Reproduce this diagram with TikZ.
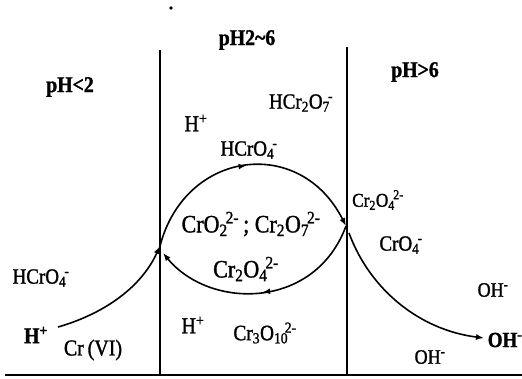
\documentclass[tikz,border=0pt]{standalone}
\usepackage{fontspec}
\setmainfont{Liberation Serif}[FakeStretch=0.88,FakeBold=1.3]
\usetikzlibrary{arrows.meta,decorations.markings}
\newcommand{\sbx}[1]{\textsubscript{#1}}
\newcommand{\spx}[1]{\textsuperscript{#1}}
\newcommand{\chg}[1]{\kern-0.08em\textsuperscript{#1}}
\newcommand{\fsz}[1]{\fontsize{#1}{#1}\selectfont}
\begin{document}
\begin{tikzpicture}[x=1pt,y=-1pt,line width=1.6pt,
  lbl/.style={inner sep=0pt,font=\fsz{21.6}},
  big/.style={inner sep=0pt,font=\fsz{25}},
  bl/.style={inner sep=0pt,font=\fsz{22.5}\bfseries},
  tip/.style={-{Latex[length=8pt,width=6pt]}},
  midtip/.style={postaction={decorate},decoration={markings,mark=at position #1 with {\arrow{Latex[length=7pt,width=6pt]}}}},
  midtip/.default=0.5]
\useasboundingbox (0,0) rectangle (522,378);
% frame lines
\coordinate (L1t) at (160,50);
\coordinate (L1b) at (160,375);
\coordinate (L2t) at (347,47);
\coordinate (L2b) at (347,375);
\coordinate (Bl) at (5,375);
\coordinate (Br) at (522,375);
\draw (L1t) -- (L1b);
\draw (L2t) -- (L2b);
\draw (Bl) -- (Br);
% junctions
\coordinate (S) at (58,327);
\coordinate (J1) at (160,246);
\coordinate (J1b) at (163,253);
\coordinate (J2) at (346,226);
\coordinate (J2b) at (349,233);
\coordinate (E) at (484,338);
% curves
\draw[tip] (S) .. controls (100,315) and (140,290) .. (J1);
\draw[tip,midtip=0.5] (J1) .. controls (185,150) and (300,135) .. (J2);
\draw[tip,midtip=0.5] (J2) .. controls (315,310) and (210,310) .. (J1b);
\draw[tip] (J2b) .. controls (370,290) and (420,330) .. (E);
% speck
\fill (171,8) circle (1.8pt);
% labels
\node[bl] (ph26) at (247,40) {pH2\textasciitilde6};
\node[bl] (phl2) at (70,87) {pH\textless2};
\node[bl] (phg6) at (415,72) {pH\textgreater6};
\node[lbl,font=\fsz{22.7}] (hp1) at (196,123) {H\spx{+}};
\node[lbl] (hcro4a) at (249,150) {HCrO\sbx{4}\chg{-}};
\node[lbl] (hcr2o7) at (301,103) {HCr\sbx{2}O\sbx{7}\chg{-}};
\node[big] (mid) at (251,224) {CrO\sbx{2}\chg{2-}\,;\ Cr\sbx{2}O\sbx{7}\chg{2-}};
\node[big] (cr2o4a) at (246,269) {Cr\sbx{2}O\sbx{4}\chg{2-}};
\node[lbl,font=\fsz{22.7}] (hp2) at (193,325) {H\spx{+}};
\node[lbl,font=\fsz{22}] (cr3o10) at (265,333) {Cr\sbx{3}O\sbx{10}\kern-0.15em\textsuperscript{2-}};
\node[lbl] (hcro4b) at (41,278) {HCrO\sbx{4}\chg{-}};
\node[bl] (hp3) at (36,335) {H\spx{+}};
\node[lbl,font=\fsz{22.7}] (crvi) at (93,350) {Cr\,(VI)};
\node[lbl,font=\fsz{19.5}] (cr2o4b) at (378,200) {Cr\sbx{2}O\sbx{4}\chg{2-}};
\node[lbl] (cro4) at (401,245) {CrO\sbx{4}\chg{-}};
\node[lbl,font=\fsz{20.5}] (oh1) at (493,290) {OH\spx{-}};
\node[bl,font=\fsz{21.6}\bfseries] (oh2) at (505,340) {OH\spx{-}};
\node[lbl,font=\fsz{20.5}] (oh3) at (430,357) {OH\spx{-}};
\end{tikzpicture}
\end{document}
